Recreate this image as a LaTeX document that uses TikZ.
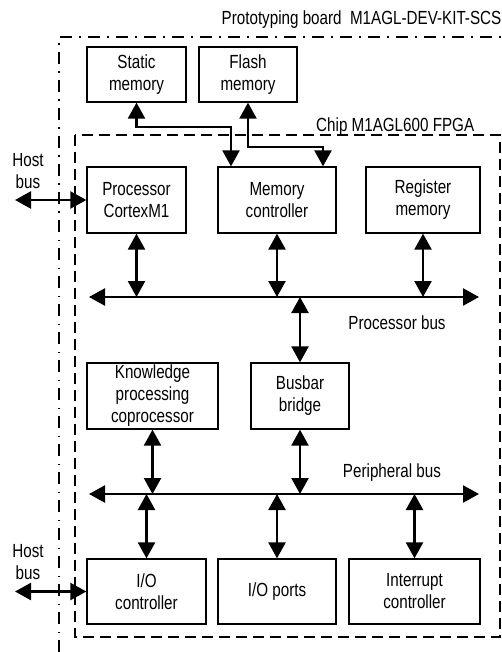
\documentclass[tikz,border=0pt]{standalone}
\usepackage{fontspec}
\setmainfont[FakeStretch=0.8]{Liberation Sans}
\usetikzlibrary{arrows.meta}
\begin{document}
\begin{tikzpicture}[x=1pt,y=-1pt,
  font=\fontsize{19pt}{22pt}\selectfont,
  blk/.style={draw, line width=1.3pt, align=center, inner sep=0pt},
  dbl/.style={line width=2.4pt, {Triangle[length=16pt,width=17pt]}-{Triangle[length=16pt,width=17pt]}},
  board/.style={line width=1.2pt, dash pattern=on 12pt off 7pt on 1.5pt off 7.5pt},
  chip/.style={line width=1.4pt, dash pattern=on 11pt off 6pt},
  lbl/.style={inner sep=0pt, align=center}]
\fill[white] (0,0) rectangle (502,652);
\useasboundingbox (0,0) rectangle (502,652);

% frames: prototyping board and FPGA chip
\draw[board] (59,652) -- (59,37) -- (502,37);
\draw[chip] (75,135) rectangle (500,637);
\node[lbl, anchor=east] (boardlbl) at (501.5,20) {Prototyping board~~M1AGL-DEV-KIT-SCS};
\node[lbl, anchor=west] (chiplbl) at (316,127) {Chip M1AGL600 FPGA};

% external memories
\node[blk, minimum width=99pt, minimum height=55pt] (stat) at (136.5,74.5) {Static\\memory};
\node[blk, minimum width=98pt, minimum height=55pt] (flash) at (248,74.5) {Flash\\memory};

% processor-bus blocks
\node[blk, minimum width=99pt, minimum height=66pt] (proc) at (136.5,200) {Processor\\CortexM1};
\node[blk, minimum width=118pt, minimum height=66pt] (memc) at (277,200) {Memory\\controller};
\node[blk, minimum width=114pt, minimum height=66pt] (reg) at (423,200) {Register\\memory};

% middle blocks
\node[blk, minimum width=131pt, minimum height=66pt] (know) at (152.5,396) {Knowledge\\processing\\coprocessor};
\node[blk, minimum width=98pt, minimum height=66pt] (busb) at (300,396) {Busbar\\bridge};

% peripheral blocks
\node[blk, minimum width=119pt, minimum height=65pt] (ioc) at (146.5,591.5) {I/O\\controller};
\node[blk, minimum width=118pt, minimum height=65pt] (iop) at (277,591.5) {I/O ports};
\node[blk, minimum width=131pt, minimum height=65pt] (intr) at (414.5,591.5) {Interrupt\\controller};

% bus labels
\node[lbl] (pblbl) at (397,323) {Processor bus};
\node[lbl] (peblbl) at (392,473) {Peripheral bus};
\node[lbl] (host1) at (28,171) {Host\\bus};
\node[lbl] (host2) at (28,562.5) {Host\\bus};

% memory links
\coordinate (s1) at (231,127);
\coordinate (f1) at (323,147);
\draw[dbl] (stat.south) |- (s1) -- (s1 |- memc.north);
\draw[dbl] (flash.south) |- (f1) -- (f1 |- memc.north);

% processor bus
\coordinate (pbL) at (89,297);
\coordinate (pbR) at (479,297);
\draw[dbl] (pbL) -- (pbR);
\draw[dbl] (proc.south) -- (proc.south |- pbL);
\draw[dbl] (memc.south) -- (memc.south |- pbL);
\draw[dbl] (reg.south) -- (reg.south |- pbL);
\draw[dbl] (busb.north |- pbL) -- (busb.north);

% peripheral bus
\coordinate (ebL) at (89,494);
\coordinate (ebR) at (479,494);
\draw[dbl] (ebL) -- (ebR);
\draw[dbl] (know.south) -- (know.south |- ebL);
\draw[dbl] (busb.south) -- (busb.south |- ebL);
\draw[dbl] (ioc.north |- ebL) -- (ioc.north);
\draw[dbl] (iop.north |- ebL) -- (iop.north);
\draw[dbl] (intr.north |- ebL) -- (intr.north);

% host buses
\coordinate (h1) at (15,200);
\coordinate (h2) at (15,591.5);
\draw[dbl] (h1) -- (proc.west);
\draw[dbl] (h2) -- (ioc.west);
\end{tikzpicture}
\end{document}
